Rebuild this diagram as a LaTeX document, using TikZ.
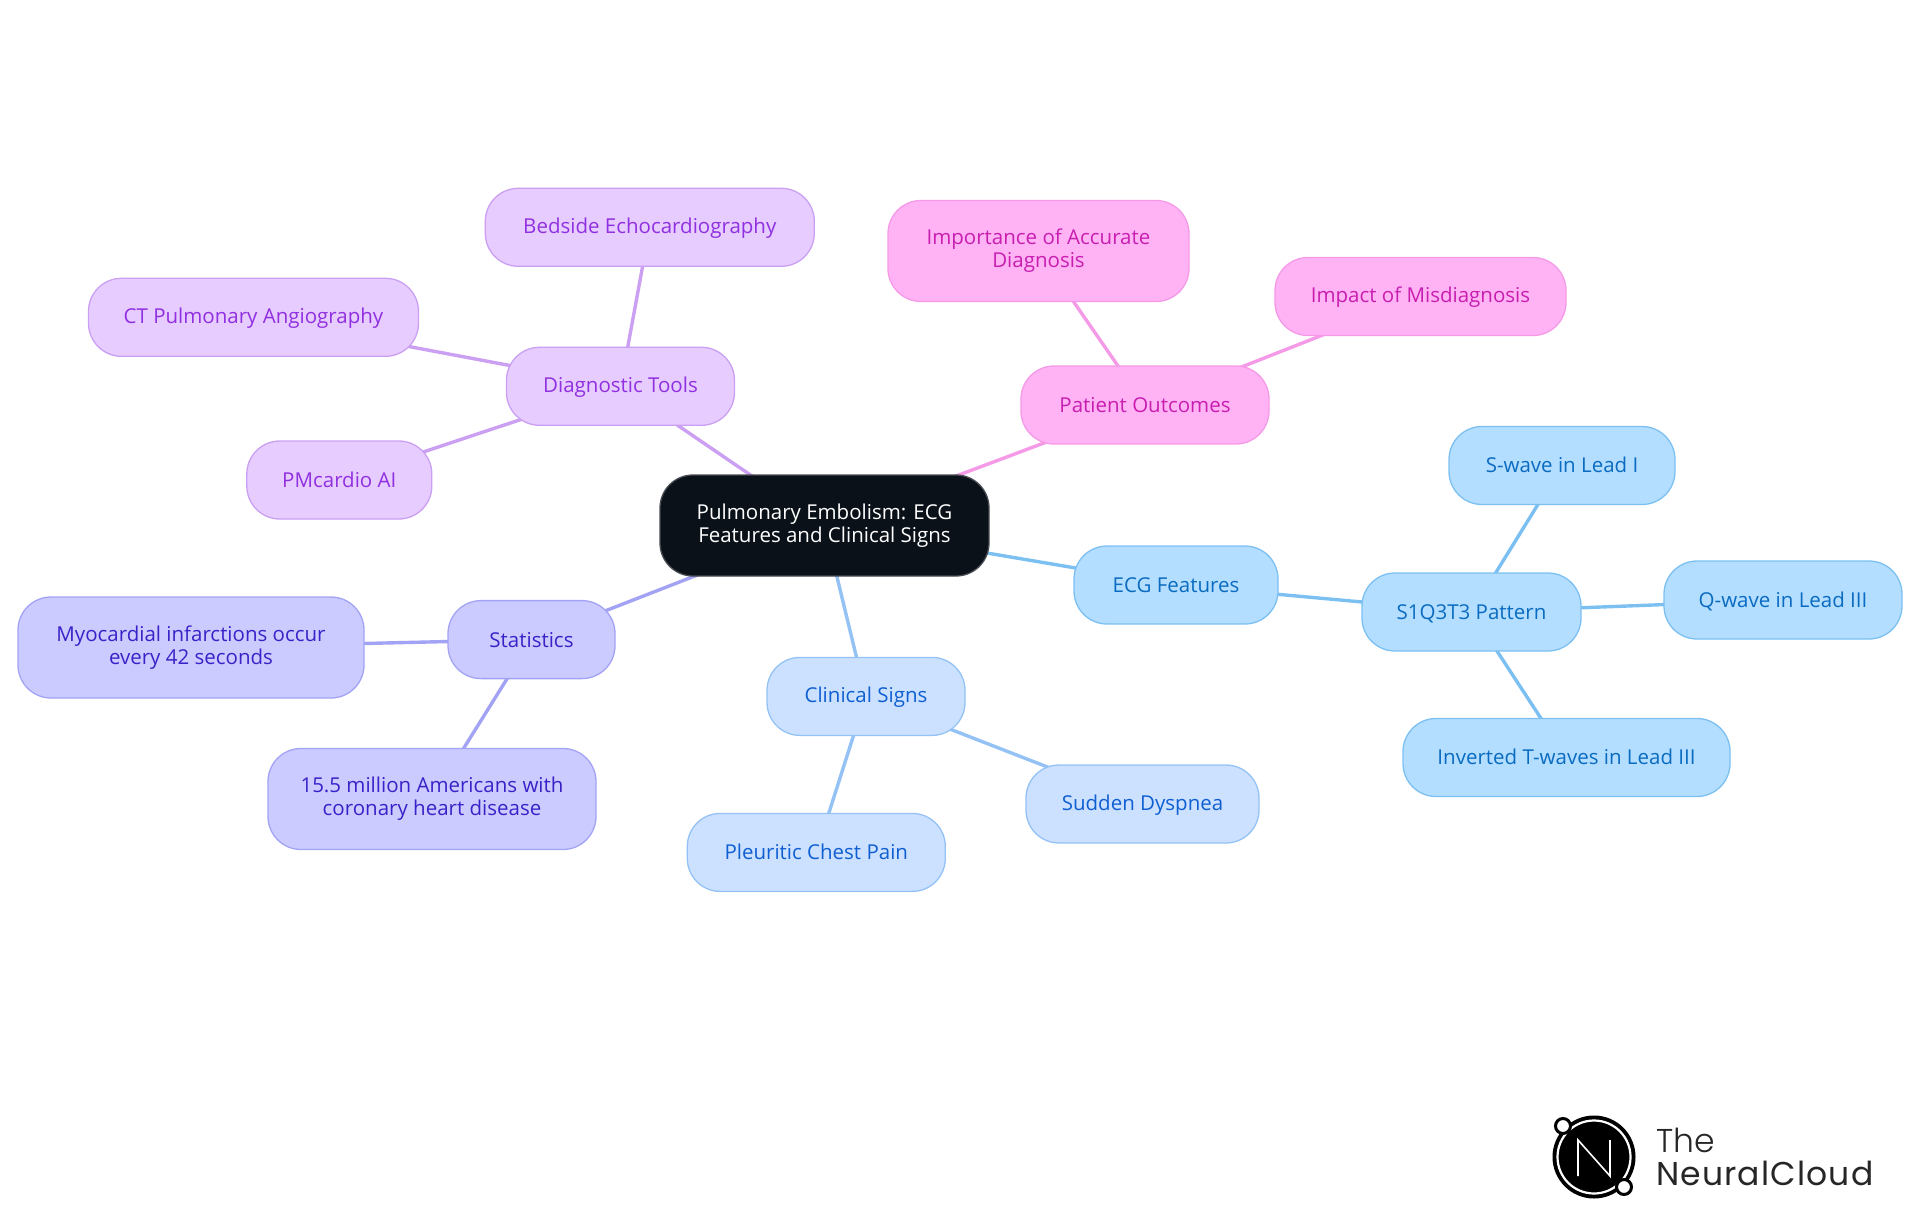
\documentclass[tikz,border=0pt]{standalone}
\usepackage{fontspec}
\setmainfont{Open Sans}
\newfontfamily\logolight{Poppins Light}
\newfontfamily\logowide{Poppins}[LetterSpace=3.5]
\newcommand{\tstrut}{\rule[-2.7pt]{0pt}{20.3pt}}
\usetikzlibrary{backgrounds}
\definecolor{rootfill}{HTML}{0B1119}\definecolor{rootline}{HTML}{484C52}
\definecolor{ecgF}{HTML}{B3DEFF}\definecolor{ecgL}{HTML}{7CC0F2}\definecolor{ecgT}{HTML}{0A6BC0}
\definecolor{cliF}{HTML}{CCE1FF}\definecolor{cliL}{HTML}{94C2F4}\definecolor{cliT}{HTML}{0F5FD2}
\definecolor{staF}{HTML}{CBCBFF}\definecolor{staL}{HTML}{A3A3F5}\definecolor{staT}{HTML}{3A22C8}
\definecolor{diaF}{HTML}{E6CCFF}\definecolor{diaL}{HTML}{CBA0F2}\definecolor{diaT}{HTML}{9030E0}
\definecolor{patF}{HTML}{FFB3F5}\definecolor{patL}{HTML}{F59AE6}\definecolor{patT}{HTML}{C81EB0}
\tikzset{
 mm/.style={rectangle,rounded corners=33pt,inner sep=0pt,align=center,line width=1.3pt,
   font=\fontsize{20.5}{23}\selectfont,execute at begin node=\tstrut,execute at end node=\tstrut},
 rootn/.style={mm,fill=rootfill,draw=rootline,text=white},
 ecgn/.style={mm,fill=ecgF,draw=ecgL,text=ecgT},
 clin/.style={mm,fill=cliF,draw=cliL,text=cliT},
 stan/.style={mm,fill=staF,draw=staL,text=staT},
 dian/.style={mm,fill=diaF,draw=diaL,text=diaT},
 patn/.style={mm,fill=patF,draw=patL,text=patT},
 edge/.style={line width=3.4pt},
}
\begin{document}
\begin{tikzpicture}[x=1pt,y=-1pt]
\useasboundingbox (0,0) rectangle (1920,1215);
\node[rootn,minimum width=329pt,minimum height=101pt] (root) at (824.5,525.5) {Pulmonary Embolism: ECG\\Features and Clinical Signs};
\node[dian,minimum width=228pt,minimum height=78pt] (dt) at (620.5,386.3) {Diagnostic Tools};
\node[dian,minimum width=329pt,minimum height=78pt] (bed) at (649.8,227.3) {Bedside Echocardiography};
\node[dian,minimum width=330pt,minimum height=78pt] (ct) at (253.5,317.3) {CT Pulmonary Angiography};
\node[dian,minimum width=185pt,minimum height=78pt] (pm) at (339.3,480) {PMcardio AI};
\node[stan,minimum width=167pt,minimum height=78pt] (st) at (531.5,639.6) {Statistics};
\node[stan,minimum width=346pt,minimum height=101pt] (myo) at (191,647.5) {Myocardial infarctions occur\\every 42 seconds};
\node[stan,minimum width=328pt,minimum height=101pt] (mil) at (432,799) {15.5 million Americans with\\coronary heart disease};
\node[clin,minimum width=198pt,minimum height=78pt] (cs) at (866,696.4) {Clinical Signs};
\node[clin,minimum width=258pt,minimum height=78pt] (pl) at (816.3,852.4) {Pleuritic Chest Pain};
\node[clin,minimum width=233pt,minimum height=78pt] (sd) at (1142.5,804) {Sudden Dyspnea};
\node[ecgn,minimum width=204pt,minimum height=78pt] (ecg) at (1176,585) {ECG Features};
\node[ecgn,minimum width=219pt,minimum height=78pt] (s1) at (1471.5,612) {S1Q3T3 Pattern};
\node[ecgn,minimum width=226pt,minimum height=78pt] (sw) at (1562,465.5) {S-wave in Lead I};
\node[ecgn,minimum width=238pt,minimum height=78pt] (qw) at (1783,600) {Q-wave in Lead III};
\node[ecgn,minimum width=327pt,minimum height=78pt] (tw) at (1566.5,757.5) {Inverted T-waves in Lead III};
\node[patn,minimum width=248pt,minimum height=78pt] (po) at (1145,405) {Patient Outcomes};
\node[patn,minimum width=301pt,minimum height=101pt] (ia) at (1038.5,251) {Importance of Accurate\\Diagnosis};
\node[patn,minimum width=291pt,minimum height=78pt] (im) at (1420.5,296.5) {Impact of Misdiagnosis};
\begin{pgfonlayer}{background}
\draw[edge,draw=diaL] (root.center)--(dt.center) (dt.center)--(bed.center) (dt.center)--(ct.center) (dt.center)--(pm.center);
\draw[edge,draw=staL] (root.center)--(st.center) (st.center)--(myo.center) (st.center)--(mil.center);
\draw[edge,draw=cliL] (root.center)--(cs.center) (cs.center)--(pl.center) (cs.center)--(sd.center);
\draw[edge,draw=ecgL] (root.center)--(ecg.center) (ecg.center)--(s1.center) (s1.center)--(sw.center) (s1.center)--(qw.center) (s1.center)--(tw.center);
\draw[edge,draw=patL] (root.center)--(po.center) (po.center)--(ia.center) (po.center)--(im.center);
\end{pgfonlayer}
% logo
\fill[black] (1594,1157) circle (41.5);
\draw[white,line width=2.2pt] (1594,1157) circle (36.5);
\draw[white,line width=1.6pt,line join=miter] (1578,1176)--(1578,1140)--(1610,1176)--(1610,1140);
\draw[black,line width=3pt,fill=white] (1563,1126) circle (7.5);
\draw[black,line width=3pt,fill=white] (1624,1187) circle (7.5);
\node[anchor=base west,inner sep=0pt,font=\logolight\fontsize{33}{33}\selectfont,text=black!85] (lt) at (1656,1152) {The};
\node[anchor=base west,inner sep=0pt,font=\logowide\fontsize{33}{33}\selectfont,text=black!85] (ln) at (1656,1185) {NeuralCloud};
\end{tikzpicture}
\end{document}
